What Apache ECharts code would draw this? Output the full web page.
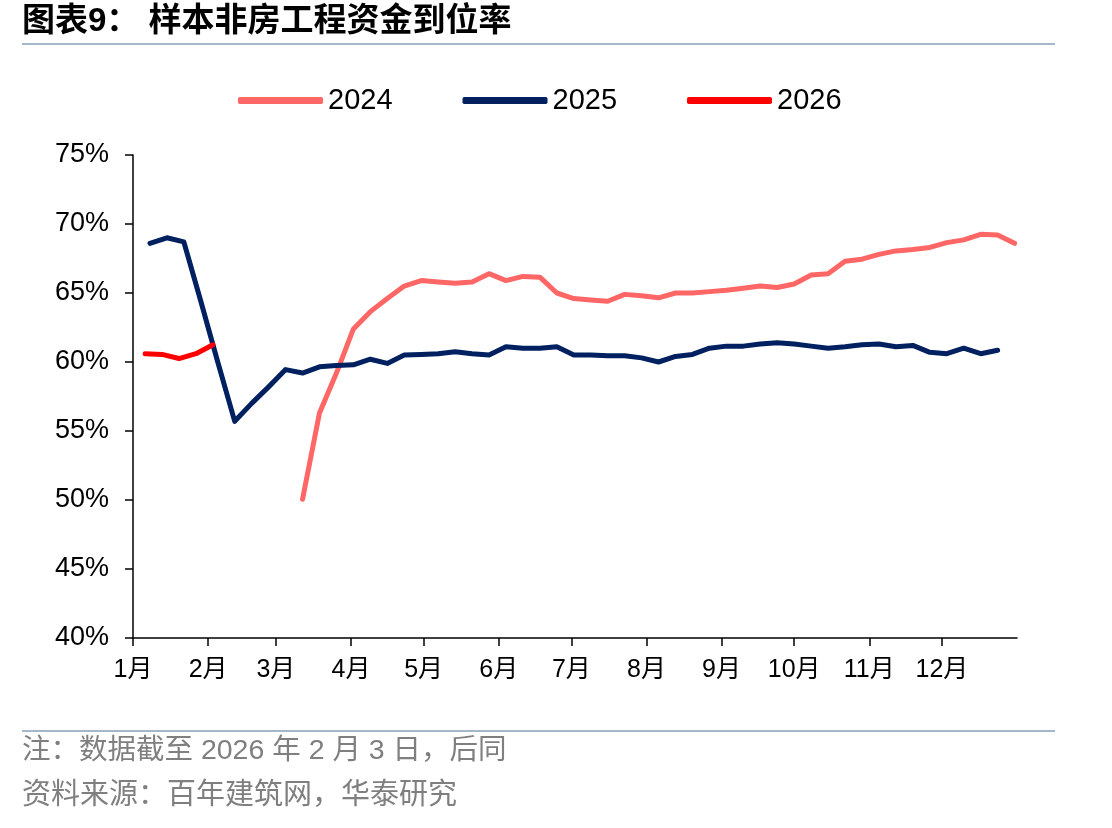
<!DOCTYPE html>
<html>
<head>
<meta charset="utf-8">
<title>样本非房工程资金到位率</title>
<script src="https://cdn.jsdelivr.net/npm/echarts@6/dist/echarts.min.js"></script>
<style>
  html, body { margin: 0; padding: 0; background: #fff; }
  #chart { width: 1112px; height: 828px; }
</style>
</head>
<body>
<div id="chart"></div>
<script>
// weekly readings, dates as month-day (plotted on one shared calendar year)
var dates2024 = ['03-12','03-19','03-26','04-02','04-09','04-16','04-23','04-30','05-07','05-14','05-21','05-28',
  '06-04','06-11','06-18','06-25','07-02','07-09','07-16','07-23','07-30','08-06','08-13','08-20','08-27',
  '09-03','09-10','09-17','09-24','10-01','10-08','10-15','10-22','10-29','11-05','11-12','11-19','11-26',
  '12-03','12-10','12-17','12-24','12-31'];
var values2024 = [50.05, 56.3, 59.2, 62.4, 63.65, 64.6, 65.5, 65.9, 65.8, 65.7, 65.8, 66.4,
  65.9, 66.2, 66.15, 65.0, 64.6, 64.5, 64.4, 64.9, 64.8, 64.65, 65.0, 65.0, 65.1,
  65.2, 65.35, 65.5, 65.4, 65.65, 66.3, 66.4, 67.3, 67.45, 67.8, 68.05, 68.15, 68.3,
  68.65, 68.85, 69.25, 69.2, 68.6];

var dates2025 = ['01-08','01-15','01-22','01-29','02-05','02-12','02-19','02-26','03-05','03-12','03-19','03-26',
  '04-02','04-09','04-16','04-23','04-30','05-07','05-14','05-21','05-28','06-04','06-11','06-18','06-25',
  '07-02','07-09','07-16','07-23','07-30','08-06','08-13','08-20','08-27','09-03','09-10','09-17','09-24',
  '10-01','10-08','10-15','10-22','10-29','11-05','11-12','11-19','11-26','12-03','12-10','12-17','12-24'];
var values2025 = [68.6, 69.0, 68.7, 64.4, 60.0, 55.7, 57.0, 58.2, 59.45, 59.2, 59.65, 59.75,
  59.8, 60.2, 59.9, 60.5, 60.55, 60.6, 60.75, 60.6, 60.5, 61.1, 61.0, 61.0, 61.1,
  60.5, 60.5, 60.45, 60.45, 60.3, 60.0, 60.4, 60.55, 61.0, 61.15, 61.15, 61.3, 61.4,
  61.3, 61.15, 61.0, 61.1, 61.25, 61.3, 61.1, 61.2, 60.7, 60.6, 61.0, 60.6, 60.85];

var dates2026 = ['01-06','01-13','01-20','01-27','02-03'];
var values2026 = [60.6, 60.55, 60.25, 60.6, 61.25];

var yTicks = [40, 45, 50, 55, 60, 65, 70, 75];

function pairs(dates, values) {
  return dates.map(function (d, i) { return ['2025-' + d, values[i]]; });
}

var chart = echarts.init(document.getElementById('chart'));
var latin = 'Liberation Sans, Arial, Noto Sans CJK SC, sans-serif';

chart.setOption({
  animation: false,
  textStyle: { fontFamily: latin },
  graphic: [
    { type: 'text', left: 22, top: 5,
      style: { text: '图表9： 样本非房工程资金到位率', fontSize: 33, fontWeight: 'bold',
        fontFamily: 'Liberation Sans, Noto Sans CJK SC, sans-serif', fill: '#000' } },
    { type: 'line', shape: { x1: 22, y1: 44, x2: 1055, y2: 44 },
      style: { stroke: '#a5b7cb', lineWidth: 2 } },
    { type: 'line', shape: { x1: 22, y1: 731, x2: 1055, y2: 731 },
      style: { stroke: '#a5b7cb', lineWidth: 2 } },
    { type: 'text', left: 22, top: 737,
      style: { text: '注：数据截至 2026 年 2 月 3 日，后同', fontSize: 28.5,
        fontFamily: latin, fill: '#7f7f7f' } },
    { type: 'text', left: 22, top: 781,
      style: { text: '资料来源：百年建筑网，华泰研究', fontSize: 29,
        fontFamily: latin, fill: '#7f7f7f' } }
  ],
  legend: {
    left: 238, top: 86, padding: 0,
    itemWidth: 85, itemHeight: 7, itemGap: 70,
    icon: 'roundRect',
    textStyle: { fontSize: 29, color: '#000', fontFamily: latin },
    data: ['2024', '2025', '2026']
  },
  grid: { left: 133, right: 95, top: 155, bottom: 190, containLabel: false },
  xAxis: {
    type: 'time',
    min: '2025-01-01',
    max: '2026-01-01',
    minInterval: 28 * 86400000,
    maxInterval: 31 * 86400000,
    splitNumber: 12,
    axisLine: { lineStyle: { color: '#000', width: 1.5 } },
    axisTick: { show: true, length: 8, lineStyle: { color: '#000', width: 1.5 } },
    axisLabel: {
      fontSize: 25, color: '#000', margin: 20, fontFamily: latin,
      hideOverlap: false,
      formatter: function (val) {
        var d = new Date(val);
        if (d.getFullYear() > 2025) return '';
        return (d.getMonth() + 1) + '月';
      }
    },
    splitLine: { show: false }
  },
  yAxis: {
    type: 'value',
    min: yTicks[0],
    max: yTicks[yTicks.length - 1],
    interval: 5,
    axisLine: { show: true, lineStyle: { color: '#000', width: 1.5 } },
    axisTick: { show: true, length: 8, lineStyle: { color: '#000', width: 1.5 } },
    axisLabel: { fontSize: 27, color: '#000', margin: 24, formatter: '{value}%' },
    splitLine: { show: false }
  },
  series: [
    { name: '2024', type: 'line', data: pairs(dates2024, values2024), showSymbol: false,
      color: '#ff6666', lineStyle: { width: 5, color: '#ff6666', cap: 'round', join: 'round' } },
    { name: '2025', type: 'line', data: pairs(dates2025, values2025), showSymbol: false,
      color: '#002060', lineStyle: { width: 5, color: '#002060', cap: 'round', join: 'round' } },
    { name: '2026', type: 'line', data: pairs(dates2026, values2026), showSymbol: false,
      color: '#ff0000', lineStyle: { width: 5, color: '#ff0000', cap: 'round', join: 'round' } }
  ]
});
</script>
</body>
</html>
